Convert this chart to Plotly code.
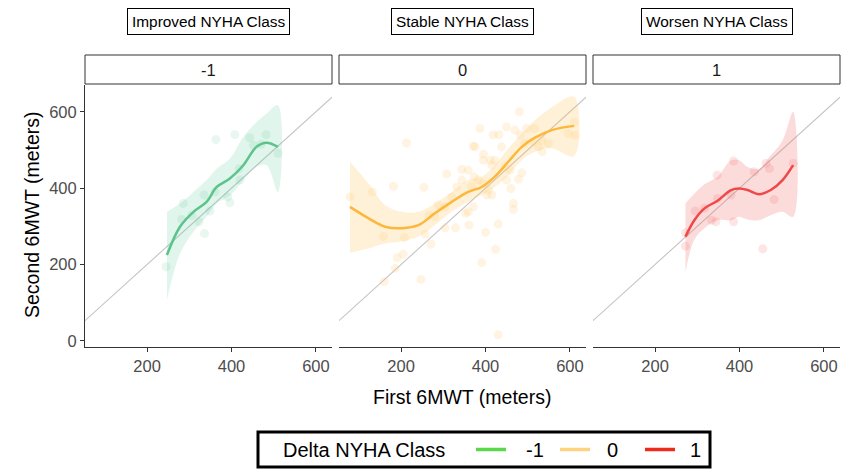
import plotly.graph_objects as go

# ---------------- data ----------------
groups = ["-1", "0", "1"]
group_titles = ["Improved NYHA Class", "Stable NYHA Class", "Worsen NYHA Class"]
legend_title = "Delta NYHA Class"

# scatter points (first 6MWT, second 6MWT)
pts_x_m1 = [245, 363, 408, 443, 482, 510, 286, 282, 306, 323, 336, 335, 349, 361, 391, 396, 420, 418, 452, 470]
pts_y_m1 = [194, 527, 540, 532, 540, 491, 360, 318, 329, 312, 281, 382, 340, 390, 377, 362, 421, 451, 512, 515]

pts_x_0 = [79, 132, 213, 182, 254, 158, 208, 191, 205, 186, 160, 247, 271, 257, 266, 304, 304, 329, 361, 359,
           308, 344, 359, 375, 387, 395, 411, 418, 432, 438, 450, 480, 470, 482, 497, 516, 534, 549, 596, 610,
           612, 430, 400, 391, 424, 430, 466, 466, 460, 478, 486, 320, 332, 344, 367, 373, 383, 395, 407, 415,
           403, 371, 353, 288, 280, 415, 422, 446, 450, 458, 493, 513, 533, 525, 371, 395]
pts_y_0 = [377, 390, 518, 405, 402, 273, 271, 218, 227, 190, 155, 161, 253, 280, 329, 351, 296, 296, 303, 338,
           437, 449, 447, 508, 556, 489, 473, 539, 540, 508, 560, 600, 552, 539, 556, 556, 495, 517, 543, 573,
           539, 306, 284, 205, 240, 16, 360, 344, 399, 423, 440, 377, 403, 421, 405, 430, 421, 412, 395, 382,
           382, 351, 334, 356, 325, 460, 473, 456, 421, 447, 517, 521, 525, 508, 510, 473]

pts_x_p1 = [272, 272, 295, 317, 334, 344, 347, 348, 386, 386, 380, 435, 463, 471, 455, 482, 527]
pts_y_p1 = [283, 248, 340, 347, 316, 312, 434, 373, 471, 312, 382, 443, 465, 451, 241, 370, 465]

# smoothed fit with confidence band
fit_x_m1 = [247, 278, 310, 341, 365, 396, 428, 459, 483, 510]
fit_y_m1 = [225, 299, 338, 364, 403, 425, 460, 508, 519, 508]
fit_lo_m1 = [107, 229, 286, 325, 360, 380, 421, 456, 460, 390]
fit_hi_m1 = [338, 360, 390, 421, 451, 477, 534, 573, 595, 617]

fit_x_0 = [79, 123, 162, 202, 241, 280, 320, 359, 391, 422, 454, 486, 517, 557, 610]
fit_y_0 = [351, 321, 299, 295, 303, 334, 364, 390, 403, 430, 469, 508, 532, 552, 563]
fit_lo_0 = [231, 242, 255, 260, 273, 303, 338, 364, 382, 403, 434, 473, 495, 504, 484]
fit_hi_0 = [469, 412, 356, 338, 338, 360, 390, 421, 430, 460, 504, 543, 578, 612, 639]

fit_x_p1 = [272, 293, 317, 348, 380, 399, 419, 446, 474, 502, 527]
fit_y_p1 = [273, 316, 347, 367, 395, 399, 395, 384, 395, 421, 460]
fit_lo_p1 = [181, 265, 295, 316, 316, 325, 318, 316, 329, 338, 325]
fit_hi_p1 = [360, 385, 410, 430, 473, 473, 455, 451, 486, 525, 600]

x_ticks = [200, 400, 600]
y_ticks = [0, 200, 400, 600]
x_range = [53, 638]
y_range = [-16, 670]

# ---------------- styles ----------------
line_cols = ["#5cc48a", "#fdb73a", "#f04848"]
pt_cols = ["rgba(102,204,153,0.15)", "rgba(255,200,110,0.2)", "rgba(240,80,80,0.15)"]
band_cols = ["rgba(102,204,153,0.2)", "rgba(255,200,100,0.25)", "rgba(245,110,110,0.25)"]
legend_cols = ["#5ad84a", "#ffd27f", "#ee2a1a"]
FONT = "Liberation Sans, Arial, sans-serif"

W, H = 859, 470
ML, MR, MT, MB = 85, 19, 85, 123
PW, PH = W - ML - MR, H - MT - MB


def fx_(px):
    return (px - ML) / PW


def fy_(py):
    return (H - MB - py) / PH


pts = [(pts_x_m1, pts_y_m1), (pts_x_0, pts_y_0), (pts_x_p1, pts_y_p1)]
fits = [(fit_x_m1, fit_y_m1, fit_lo_m1, fit_hi_m1),
        (fit_x_0, fit_y_0, fit_lo_0, fit_hi_0),
        (fit_x_p1, fit_y_p1, fit_lo_p1, fit_hi_p1)]

domains = [[fx_(85), fx_(332)], [fx_(339), fx_(586)], [fx_(593), 1.0]]

fig = go.Figure()
for i in range(3):
    xa = "x" if i == 0 else f"x{i+1}"
    ya = "y" if i == 0 else f"y{i+1}"
    fig.add_trace(go.Scatter(x=x_range, y=x_range, mode="lines", xaxis=xa, yaxis=ya,
                             line=dict(color="#c4c4c4", width=1.1), showlegend=False, hoverinfo="skip"))
    px, py = pts[i]
    fig.add_trace(go.Scatter(x=px, y=py, mode="markers", xaxis=xa, yaxis=ya,
                             marker=dict(size=9, color=pt_cols[i]), showlegend=False))
    fxs, fys, flo, fhi = fits[i]
    fig.add_trace(go.Scatter(x=fxs + fxs[::-1], y=fhi + flo[::-1], fill="toself", mode="lines",
                             line=dict(width=0, shape="spline"), fillcolor=band_cols[i],
                             xaxis=xa, yaxis=ya, showlegend=False, hoverinfo="skip"))
    fig.add_trace(go.Scatter(x=fxs, y=fys, mode="lines", xaxis=xa, yaxis=ya,
                             line=dict(color=line_cols[i], width=2.5, shape="spline"), showlegend=False))

layout = dict(
    width=W, height=H,
    margin=dict(l=ML, r=MR, t=MT, b=MB, autoexpand=False),
    paper_bgcolor="white", plot_bgcolor="white",
    font=dict(family=FONT, color="black"),
    showlegend=False,
)
for i in range(3):
    k = "" if i == 0 else str(i + 1)
    layout[f"xaxis{k}"] = dict(domain=domains[i], range=x_range, tickvals=x_ticks,
                               showgrid=False, zeroline=False, showline=True, linecolor="#333", linewidth=1,
                               ticks="outside", ticklen=4, tickcolor="#333",
                               tickfont=dict(size=16.5, color="#4d4d4d"), anchor="y" + k)
    layout[f"yaxis{k}"] = dict(range=y_range, tickvals=y_ticks, showgrid=False, zeroline=False,
                               showline=(i == 0), linecolor="#333", linewidth=1,
                               ticks="outside" if i == 0 else "", ticklen=4, tickcolor="#333",
                               showticklabels=(i == 0),
                               tickfont=dict(size=16.5, color="#4d4d4d"), anchor="x" + k)
fig.update_layout(**layout)

shapes = []
annotations = []
# facet strips and group title boxes
for i in range(3):
    d0, d1 = domains[i]
    shapes.append(dict(type="rect", xref="paper", yref="paper", x0=d0, x1=d1, y0=fy_(84), y1=fy_(55),
                       line=dict(color="#333", width=1), fillcolor="white"))
    annotations.append(dict(text=groups[i], x=(d0 + d1) / 2, y=fy_(69.5), xref="paper", yref="paper",
                            xanchor="center", yanchor="middle",
                            showarrow=False, font=dict(size=16.5, color="#1a1a1a")))
    annotations.append(dict(text=group_titles[i], x=(d0 + d1) / 2, y=fy_(21), xref="paper", yref="paper",
                            xanchor="center", yanchor="middle",
                            showarrow=False, font=dict(size=15.4, color="black"),
                            bordercolor="black", borderwidth=1, borderpad=4, bgcolor="white"))
# axis titles
annotations.append(dict(text="First 6MWT (meters)", x=fx_(462), y=fy_(397), xref="paper", yref="paper",
                        showarrow=False, font=dict(size=19.5), xanchor="center", yanchor="middle"))
annotations.append(dict(text="Second 6MWT (meters)", x=fx_(32), y=fy_(215), xref="paper", yref="paper",
                        showarrow=False, font=dict(size=19.5), textangle=-90, xanchor="center",
                        yanchor="middle"))
# legend (drawn)
shapes.append(dict(type="rect", xref="paper", yref="paper", x0=fx_(258), x1=fx_(710), y0=fy_(467), y1=fy_(432),
                   line=dict(color="black", width=3), fillcolor="white"))
annotations.append(dict(text=legend_title, x=fx_(281), y=fy_(449.5), xref="paper", yref="paper",
                        showarrow=False, font=dict(size=20), xanchor="left", yanchor="middle"))
line_x0 = [476, 560, 645]
label_x0 = [524, 605, 688]
for i, g in enumerate(groups):
    shapes.append(dict(type="line", xref="paper", yref="paper", x0=fx_(line_x0[i]), x1=fx_(line_x0[i] + 30),
                       y0=fy_(449.5), y1=fy_(449.5), line=dict(color=legend_cols[i], width=3.5)))
    annotations.append(dict(text=g, x=fx_(label_x0[i]), y=fy_(449.5), xref="paper", yref="paper",
                            showarrow=False, font=dict(size=20), xanchor="left", yanchor="middle"))
fig.update_layout(shapes=shapes, annotations=annotations)

fig.write_html("out.html")
